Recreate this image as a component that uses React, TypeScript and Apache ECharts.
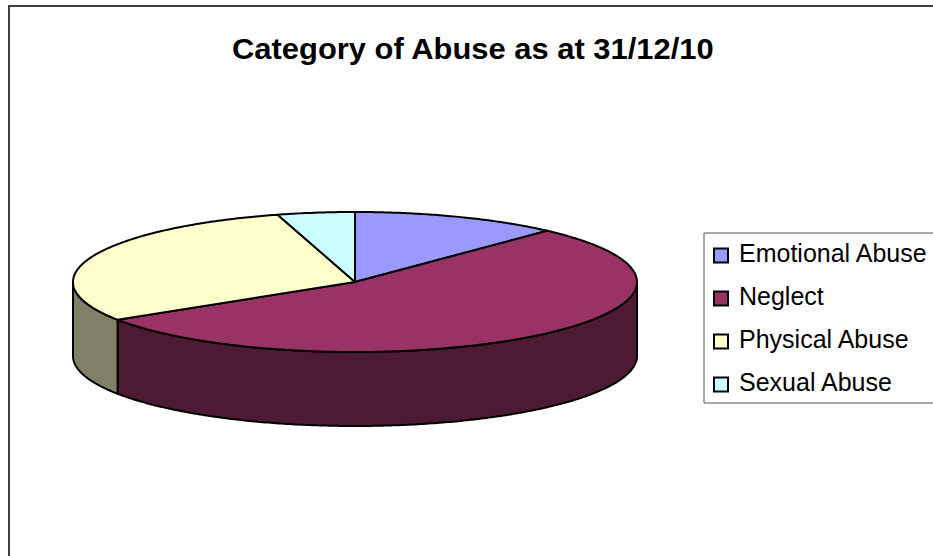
import React, { useEffect, useRef } from "react";
import * as echarts from "echarts";

const titleText = "Category of Abuse as at 31/12/10";
const categories = ["Emotional Abuse", "Neglect", "Physical Abuse", "Sexual Abuse"];
const counts = [27, 122, 67, 10];
const topColors = ["#9999FF", "#993366", "#FFFFCC", "#CCFFFF"];
const sideColors = ["#4D4D80", "#4D1A33", "#808066", "#668080"];

const CX = 355;
const CY = 282;
const RX = 282;
const RY = 70;
const DEPTH = 74;
const FONT = "'Liberation Sans', Arial, sans-serif";

const total = counts.reduce((a, b) => a + b, 0);

function rimPoint(a: number, drop = 0): number[] {
  return [CX + RX * Math.sin(a), CY - RY * Math.cos(a) + drop];
}

function rim(a0: number, a1: number, drop = 0): number[][] {
  const n = Math.max(2, Math.ceil((a1 - a0) / 0.01));
  const out: number[][] = [];
  for (let i = 0; i <= n; i++) out.push(rimPoint(a0 + ((a1 - a0) * i) / n, drop));
  return out;
}

function renderSlice(params: any, api: any) {
  const idx = params.seriesIndex;
  const before = counts.slice(0, idx).reduce((a, b) => a + b, 0);
  const a0 = (before / total) * Math.PI * 2;
  const a1 = ((before + api.value(0)) / total) * Math.PI * 2;
  const children: any[] = [];
  const f0 = Math.max(a0, Math.PI / 2);
  const f1 = Math.min(a1, (Math.PI * 3) / 2);
  if (f1 > f0) {
    const upper = rim(f0, f1);
    const lower = rim(f0, f1, DEPTH).reverse();
    children.push({
      type: "polygon",
      z2: 1,
      shape: { points: upper.concat(lower) },
      style: { fill: sideColors[idx], stroke: "#000", lineWidth: 2, lineJoin: "round" },
    });
  }
  children.push({
    type: "polygon",
    z2: 2,
    shape: { points: [[CX, CY]].concat(rim(a0, a1)) },
    style: { fill: topColors[idx], stroke: "#000", lineWidth: 2, lineJoin: "round" },
  });
  return { type: "group", children };
}

export default function App() {
  const ref = useRef<HTMLDivElement>(null);
  useEffect(() => {
    document.body.style.margin = "0";
    document.body.style.overflow = "hidden";
    const chart = echarts.init(ref.current!, undefined, { renderer: "svg" });
    chart.setOption({
      animation: false,
      backgroundColor: "#fff",
      legend: {
        orient: "vertical",
        left: 704,
        top: 233,
        width: 260,
        padding: [7.5, 20, 8.5, 9],
        itemWidth: 14,
        itemHeight: 14,
        itemGap: 18,
        selectedMode: false,
        borderColor: "#555",
        borderWidth: 1,
        backgroundColor: "#fff",
        icon: "rect",
        formatter: "{t|{name}}",
        textStyle: {
          fontFamily: FONT,
          fontSize: 25,
          color: "#000",
          rich: { t: { fontFamily: FONT, fontSize: 25, color: "#000", padding: [0, 0, 5, 6] } },
        },
        itemStyle: { borderColor: "#000", borderWidth: 2 },
        data: categories,
      },
      graphic: [
        {
          type: "rect",
          silent: true,
          z: -1,
          shape: { x: 9, y: 6, width: 1200, height: 900 },
          style: { fill: "transparent", stroke: "#404040", lineWidth: 2 },
        },
        {
          type: "text",
          silent: true,
          x: 232,
          y: 49,
          scaleX: 1.066,
          style: {
            text: titleText,
            fontFamily: FONT,
            fontSize: 29,
            fontWeight: "bold",
            fill: "#000",
            align: "left",
            verticalAlign: "middle",
          },
        },
      ],
      series: categories.map((name, i) => ({
        type: "custom",
        name,
        coordinateSystem: "none",
        itemStyle: { color: topColors[i] },
        renderItem: renderSlice,
        data: [[counts[i]]],
        silent: true,
      })),
    });
    return () => chart.dispose();
  }, []);
  return <div ref={ref} style={{ position: "absolute", left: 0, top: 0, width: 933, height: 556 }} />;
}
